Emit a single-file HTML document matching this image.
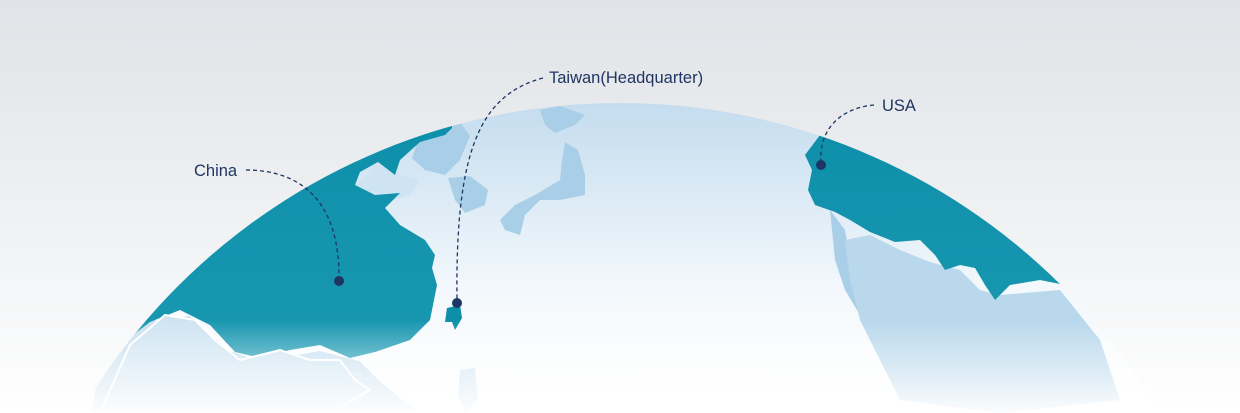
<!DOCTYPE html>
<html><head><meta charset="utf-8"><style>
html,body{margin:0;padding:0;width:1240px;height:413px;overflow:hidden;background:#fff}
svg{display:block;overflow:hidden}
text{font-family:"Liberation Sans",sans-serif;font-size:16.5px;fill:#1f3563}
</style></head><body>
<svg width="1240" height="413" viewBox="0 0 1240 413">
<defs>
<linearGradient id="bg" x1="0" y1="0" x2="0" y2="413" gradientUnits="userSpaceOnUse">
<stop offset="0" stop-color="#e0e3e7"/><stop offset="0.5" stop-color="#eef0f2"/><stop offset="1" stop-color="#ffffff"/></linearGradient>
<linearGradient id="gl" x1="0" y1="100" x2="0" y2="413" gradientUnits="userSpaceOnUse">
<stop offset="0" stop-color="#c3dcee"/><stop offset="0.6" stop-color="#f3f8fc"/><stop offset="1" stop-color="#ffffff"/></linearGradient>
<linearGradient id="tl" x1="0" y1="120" x2="0" y2="413" gradientUnits="userSpaceOnUse">
<stop offset="0" stop-color="#0e8fa9"/><stop offset="1" stop-color="#1c9ab3"/></linearGradient>
<linearGradient id="fade" x1="0" y1="320" x2="0" y2="413" gradientUnits="userSpaceOnUse">
<stop offset="0" stop-color="#fff" stop-opacity="0"/><stop offset="0.8" stop-color="#fff" stop-opacity="0.75"/><stop offset="1" stop-color="#fff" stop-opacity="0.95"/></linearGradient>
<clipPath id="c"><circle cx="620" cy="728" r="625"/></clipPath>
</defs>
<rect width="1240" height="413" fill="url(#bg)"/>
<circle cx="620" cy="728" r="625" fill="url(#gl)"/>
<g clip-path="url(#c)">
<g fill="#a9cfe8">
<path d="M418 140 L430 128 L460 122 L470 136 L460 160 L445 175 L425 170 L412 158 Z"/>
<path d="M448 178 L470 176 L488 190 L485 205 L465 213 L455 200 Z"/>
<path d="M540 110 L560 106 L585 115 L575 125 L555 133 L545 125 Z"/>
<path d="M565 142 L578 150 L585 175 L585 195 L560 200 L540 200 L525 215 L520 235 L505 230 L500 220 L515 205 L535 195 L560 180 L562 160 Z"/>
<path d="M355 185 L375 165 L395 170 L400 175 L420 180 L410 195 L392 200 L370 195 Z" fill="#cfe4f2"/>
<path d="M830 210 L845 230 L850 260 L865 300 L860 315 L845 290 L835 260 Z"/>
<path d="M845 240 L870 235 L900 250 L930 262 L960 270 L980 290 L1000 295 L1060 290 L1100 340 L1120 400 L1000 413 L900 400 L880 360 L860 320 L850 280 Z" fill="#b9d8ec"/>
<path d="M100 360 L150 320 L190 315 L230 350 L260 360 L320 350 L360 360 L380 380 L420 413 L90 413 Z" fill="#c8e0f0" stroke="#fff" stroke-width="2"/>
<path d="M460 370 L475 368 L478 400 L465 413 L458 395 Z" fill="#cfe4f2"/>
<path d="M345 372 L360 370 L365 380 L350 383 Z" fill="#cfe4f2"/>
</g>
<path d="M60 413 L60 0 L452 0 L452 128 L445 135 L420 142 L400 160 L395 175 L378 162 L360 172 L355 185 L375 195 L400 193 L385 208 L400 225 L425 240 L435 255 L432 268 L437 285 L430 320 L410 340 L375 352 L350 358 L320 345 L290 350 L260 358 L235 352 L210 325 L180 310 L150 322 L120 345 Z" fill="url(#tl)"/>
<path d="M130 345 L165 315 L195 320 L215 340 L240 360 L280 350 L310 360 L340 360 L355 380 L370 390 L330 413 L100 413 Z" fill="#cfe4f2" stroke="#fff" stroke-width="2"/>
<path d="M447 308 L460 305 L462 318 L455 330 L452 322 L445 322 Z" fill="#0e8fa9"/>
<path d="M820 135 L820 0 L1300 0 L1300 413 L1065 285 L1040 280 L1010 285 L995 300 L985 285 L975 268 L960 265 L945 270 L935 255 L920 240 L895 242 L870 232 L850 220 L835 212 L815 205 L808 190 L812 170 L805 155 Z" fill="url(#tl)"/>
<rect x="0" y="300" width="1240" height="113" fill="url(#fade)"/>
</g>
<g fill="none" stroke="#1f3563" stroke-width="1.3" stroke-dasharray="4 3">
<path d="M246 170 C300 170 340 200 339 280"/>
<path d="M543 78 C480 95 455 150 457 302"/>
<path d="M874 105 C840 108 818 130 821 164"/>
</g>
<g fill="#1f3563">
<circle cx="339" cy="281" r="5"/><circle cx="457" cy="303" r="5"/><circle cx="821" cy="165" r="5"/>
</g>
<text x="194" y="176">China</text>
<text x="549" y="83">Taiwan(Headquarter)</text>
<text x="882" y="111">USA</text>
</svg>
</body></html>
